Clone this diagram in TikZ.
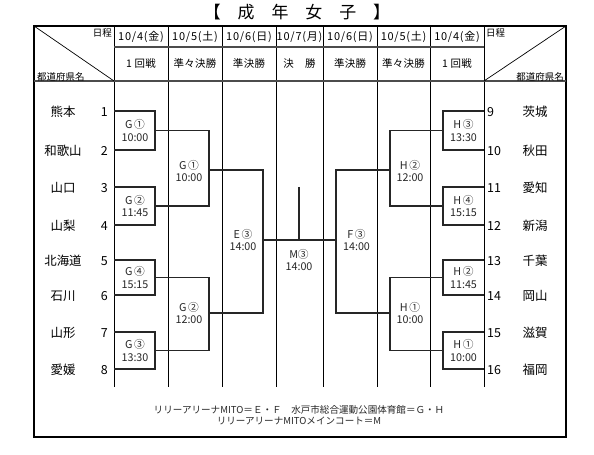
\documentclass[tikz,border=0pt]{standalone}
\usepackage{fontspec}
\setmainfont{Noto Sans CJK JP}
\begin{document}
\begin{tikzpicture}[x=1bp,y=-1bp,
  grid/.style={line width=0.7bp,black},
  hdr/.style={line width=1.6bp,black!70},
  frame/.style={line width=2bp,black},
  br/.style={line width=1.3bp,black!85},
  team/.style={font=\fontsize{12.5}{13}\selectfont,inner sep=0},
  num/.style={font=\fontsize{12.5}{13}\selectfont,inner sep=0},
  match/.style={align=center,font=\fontsize{10.8}{12.5}\selectfont,inner sep=0,text=black!85},
  datec/.style={font=\fontsize{11}{12}\selectfont\addfontfeatures{LetterSpace=7},inner sep=0},
  roundc/.style={font=\fontsize{10.5}{12}\selectfont\addfontfeatures{LetterSpace=3},inner sep=0},
  small/.style={font=\fontsize{9.5}{11}\selectfont,inner sep=0},
  foot/.style={font=\fontsize{9.6}{11.5}\selectfont,align=center,inner sep=0,text=black!85}]
\useasboundingbox (0,0) rectangle (594,455);
% title
\node[font=\fontsize{17}{18}\selectfont,inner sep=0] (title) at (297,12) {【　成　年　女　子　】};
% frame and grid
\draw[frame] (34,26) rectangle (566,437);
\foreach \x in {114,168,222,276,323,377,430,484}{
  \draw[grid] (\x,26) -- (\x,387);
}
\draw[hdr] (114,47) -- (484,47);
\draw[hdr] (34,81) -- (566,81);
\draw[grid] (34,26) -- (114,81);
\draw[grid] (484,81) -- (566,26);
% header texts
\node[small,anchor=east] (hl1) at (112,33) {日程};
\node[small,anchor=west] (hl2) at (37,77) {都道府県名};
\node[small,anchor=west] (hr1) at (486,33) {日程};
\node[small,anchor=east] (hr2) at (564,77) {都道府県名};
\node[datec] (d1) at (141,37) {10/4(金)};
\node[datec] (d2) at (195,37) {10/5(土)};
\node[datec] (d3) at (249,37) {10/6(日)};
\node[datec] (d4) at (299.5,37) {10/7(月)};
\node[datec] (d5) at (350,37) {10/6(日)};
\node[datec] (d6) at (403.5,37) {10/5(土)};
\node[datec] (d7) at (457,37) {10/4(金)};
\node[roundc] (r1) at (141,64) {1 回戦};
\node[roundc] (r2) at (195,64) {準々決勝};
\node[roundc] (r3) at (249,64) {準決勝};
\node[roundc] (r4) at (299.5,64) {決　勝};
\node[roundc] (r5) at (350,64) {準決勝};
\node[roundc] (r6) at (403.5,64) {準々決勝};
\node[roundc] (r7) at (457,64) {1 回戦};
% teams left
\foreach \i/\y/\n in {1/111/熊本,2/150/和歌山,3/187/山口,4/225/山梨,5/260/北海道,6/295/石川,7/332/山形,8/369/愛媛}{
  \node[team] (tl\i) at (63,\y+1) {\n};
  \node[num,anchor=east] (nl\i) at (108,\y+1) {\i};
  \coordinate (L\i) at (114,\y);
}
\foreach \i/\y/\n in {9/111/茨城,10/150/秋田,11/187/愛知,12/225/新潟,13/260/千葉,14/295/岡山,15/332/滋賀,16/369/福岡}{
  \node[team] (tr\i) at (535,\y+1) {\n};
  \node[num,anchor=west] (nr\i) at (487,\y+1) {\i};
  \coordinate (R\i) at (484,\y);
}
% left bracket coordinates
\coordinate (A1) at (155,130.5);
\coordinate (A2) at (155,206);
\coordinate (A3) at (155,277.5);
\coordinate (A4) at (155,350.5);
\coordinate (B1) at (209,170);
\coordinate (B2) at (209,313);
\coordinate (C1) at (263,240);
% right bracket coordinates
\coordinate (E1) at (443,130.5);
\coordinate (E2) at (443,206);
\coordinate (E3) at (443,277.5);
\coordinate (E4) at (443,350.5);
\coordinate (F1) at (390,170);
\coordinate (F2) at (390,313);
\coordinate (D1) at (336,240);
\coordinate (Mtop) at (299,187);
% left first round boxes
\draw[br] (L1) -| (A1 |- L2) -- (L2);
\draw[br] (L3) -| (A2 |- L4) -- (L4);
\draw[br] (L5) -| (A3 |- L6) -- (L6);
\draw[br] (L7) -| (A4 |- L8) -- (L8);
\draw[br] (A1) -| (A2 -| B1) -- (A2);
\draw[br] (A3) -| (A4 -| B2) -- (A4);
\draw[br] (B1) -| (B2 -| C1) -- (B2);
% right first round boxes
\draw[br] (R9) -| (E1 |- R10) -- (R10);
\draw[br] (R11) -| (E2 |- R12) -- (R12);
\draw[br] (R13) -| (E3 |- R14) -- (R14);
\draw[br] (R15) -| (E4 |- R16) -- (R16);
\draw[br] (E1) -| (E2 -| F1) -- (E2);
\draw[br] (E3) -| (E4 -| F2) -- (E4);
\draw[br] (F1) -| (F2 -| D1) -- (F2);
% final
\draw[br] (C1) -- (D1);
\draw[br] (Mtop) -- (Mtop |- C1);
% match labels
\node[match] (g1a) at (135,130.5) {G\,①\\10:00};
\node[match] (g2a) at (135,206) {G\,②\\11:45};
\node[match] (g4a) at (135,277.5) {G\,④\\15:15};
\node[match] (g3a) at (135,350.5) {G\,③\\13:30};
\node[match] (g1b) at (189,171) {G\,①\\10:00};
\node[match] (g2b) at (189,313) {G\,②\\12:00};
\node[match] (e3) at (243,240) {E\,③\\14:00};
\node[match] (m3) at (299,260) {M③\\14:00};
\node[match] (f3) at (356.5,240) {F\,③\\14:00};
\node[match] (h2b) at (410,171) {H\,②\\12:00};
\node[match] (h1b) at (410,313) {H\,①\\10:00};
\node[match] (h3a) at (463.5,130.5) {H\,③\\13:30};
\node[match] (h4a) at (463.5,206) {H\,④\\15:15};
\node[match] (h2a) at (463.5,277.5) {H\,②\\11:45};
\node[match] (h1a) at (463.5,350.5) {H\,①\\10:00};
% footer
\node[foot] (foot) at (299,415) {リリーアリーナMITO＝Ｅ・Ｆ　水戸市総合運動公園体育館＝Ｇ・Ｈ\\リリーアリーナMITOメインコート＝M};
\end{tikzpicture}
\end{document}
